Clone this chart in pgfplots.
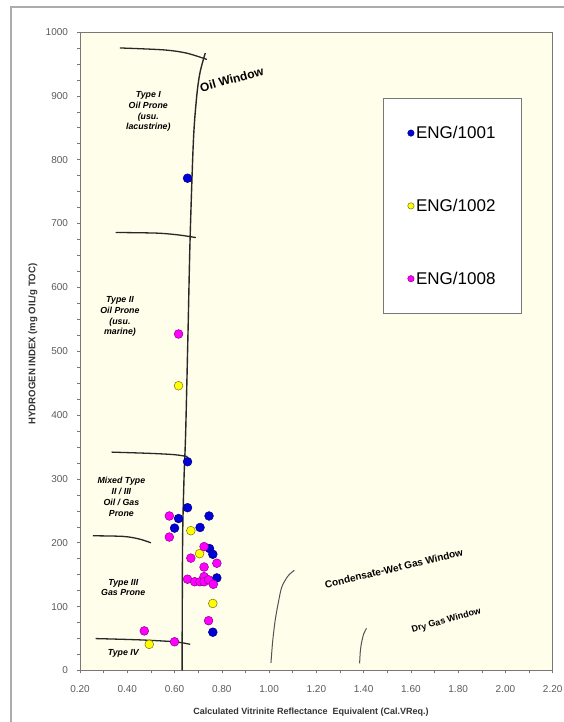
\documentclass[border=0pt]{standalone}
\usepackage{fontspec}
\setmainfont{Liberation Sans}
\usepackage{pgfplots}
\pgfplotsset{compat=1.18}
\definecolor{cream}{RGB}{255,254,234}
\definecolor{ptblue}{RGB}{0,0,215}
\definecolor{ptyellow}{RGB}{255,255,0}
\definecolor{ptmag}{RGB}{255,0,255}
\definecolor{axgray}{RGB}{120,120,120}
\definecolor{lblgray}{RGB}{90,90,90}
\definecolor{curve}{RGB}{40,40,40}
\begin{document}
\begin{tikzpicture}[x=1pt,y=1pt]
\useasboundingbox (0,0) rectangle (564,722);
\draw[gray!65, line width=1.5pt] (11,-10) -- (11,715) -- (580,715);
\begin{axis}[
  at={(80pt,51.5pt)}, anchor=south west,
  scale only axis, width=472.7pt, height=638.5pt,
  xmin=0.2, xmax=2.2, ymin=0, ymax=1000,
  axis background/.style={fill=cream},
  axis line style={axgray, line width=0.8pt},
  every tick/.style={axgray, line width=0.6pt},
  tick align=outside, major tick length=3pt, minor tick length=3pt,
  xtick pos=left, ytick pos=left,
  xtick={0.2,0.4,0.6,0.8,1.0,1.2,1.4,1.6,1.8,2.0,2.2},
  minor x tick num=1,
  ytick={0,100,200,300,400,500,600,700,800,900,1000},
  minor y tick num=3,
  /pgf/number format/assume math mode=true,
  xticklabel style={/pgf/number format/.cd, fixed, fixed zerofill, precision=2, /tikz/.cd, font=\fontsize{10}{12}\selectfont, text=lblgray, yshift=-8pt},
  yticklabel style={/pgf/number format/.cd, 1000 sep={}, /tikz/.cd, font=\fontsize{10}{12}\selectfont, text=lblgray, xshift=-5.5pt},
  xlabel={Calculated Vitrinite Reflectance\ \ Equivalent (Cal.VReq.)},
  xlabel style={at={(rel axis cs:0.4887,0)}, anchor=center, yshift=-41.5pt, font=\fontsize{9}{11}\selectfont\bfseries, text=black!80},
  ylabel={HYDROGEN INDEX (mg OIL/g TOC)},
  ylabel style={at={(rel axis cs:0,0.5114)}, anchor=center, yshift=47pt, font=\fontsize{9.6}{11}\selectfont\bfseries, text=black!80},
  legend style={at={(0.6417,0.8962)}, anchor=north west, draw=axgray, line width=0.8pt, fill=white,
    font=\fontsize{17}{20}\selectfont, row sep=55pt, inner xsep=24pt, inner ysep=25.5pt},
  legend cell align=left,
  clip=false,
]
% oil window and kerogen type boundaries
\addplot[curve, line width=1.4pt, smooth, forget plot] coordinates {(0.632,0) (0.634,200) (0.640,300) (0.647,372) (0.657,530) (0.666,679) (0.680,831) (0.694,900) (0.708,937) (0.730,967)};
\addplot[curve, line width=1.3pt, smooth, forget plot] coordinates {(0.369,975) (0.553,972) (0.65,967) (0.737,957)};
\addplot[curve, line width=1.3pt, smooth, forget plot] coordinates {(0.351,686) (0.525,685) (0.62,682) (0.690,678)};
\addplot[curve, line width=1.3pt, smooth, forget plot] coordinates {(0.334,342) (0.50,340) (0.60,338) (0.655,335)};
\addplot[curve, line width=1.3pt, smooth, forget plot] coordinates {(0.254,211) (0.383,210) (0.45,206) (0.500,200)};
\addplot[curve, line width=1.3pt, smooth, forget plot] coordinates {(0.266,50) (0.45,48) (0.60,45) (0.666,41)};
\addplot[curve!80, line width=1pt, smooth, forget plot] coordinates {(1.008,12) (1.015,45) (1.026,79) (1.040,108) (1.054,131) (1.08,148) (1.107,157)};
\addplot[curve!80, line width=1pt, smooth, forget plot] coordinates {(1.383,11) (1.386,30) (1.391,43) (1.40,57) (1.412,66)};
% data
\addplot[only marks, mark=*, mark size=4.4pt, mark options={fill=ptblue, draw=ptblue!60!black, line width=0.5pt}, forget plot] coordinates {
 (0.655,771) (0.655,327) (0.655,255) (0.617,238) (0.746,242) (0.600,223) (0.708,224) (0.748,191) (0.762,182) (0.779,145) (0.762,60)};
\addplot[only marks, mark=*, mark size=4.4pt, mark options={fill=ptyellow, draw=olive!80!black, line width=0.5pt}, forget plot] coordinates {
 (0.617,446) (0.669,219) (0.706,183) (0.762,105) (0.493,41)};
\addplot[only marks, mark=*, mark size=4.4pt, mark options={fill=ptmag, draw=ptmag!55!black, line width=0.5pt}, forget plot] coordinates {
 (0.617,527) (0.578,242) (0.578,209) (0.725,194) (0.669,176) (0.779,168) (0.725,162) (0.655,143) (0.685,139) (0.708,139) (0.725,147) (0.725,139) (0.744,142) (0.764,135) (0.744,78) (0.472,62) (0.600,45)};
\addlegendimage{only marks, mark=*, mark size=3.2pt, mark options={fill=ptblue, draw=ptblue!60!black, line width=0.5pt}}
\addlegendentry{ENG/1001}
\addlegendimage{only marks, mark=*, mark size=3.2pt, mark options={fill=ptyellow, draw=olive!80!black, line width=0.5pt}}
\addlegendentry{ENG/1002}
\addlegendimage{only marks, mark=*, mark size=3.2pt, mark options={fill=ptmag, draw=ptmag!55!black, line width=0.5pt}}
\addlegendentry{ENG/1008}
% annotations
\node[rotate=15.6, font=\fontsize{12}{14}\selectfont\bfseries] at (axis cs:0.842,926) {Oil Window};
\node[rotate=13.3, font=\fontsize{10}{12}\selectfont\bfseries] at (axis cs:1.528,160) {Condensate-Wet Gas Window};
\node[rotate=16, font=\fontsize{9}{11}\selectfont\bfseries] at (axis cs:1.750,78) {Dry Gas Window};
\node[align=center, font=\fontsize{8.8}{10.7}\selectfont\bfseries\itshape] at (axis cs:0.489,875) {Type I\\Oil Prone\\(usu.\\lacustrine)};
\node[align=center, font=\fontsize{8.8}{10.7}\selectfont\bfseries\itshape] at (axis cs:0.369,554) {Type II\\Oil Prone\\(usu.\\marine)};
\node[align=center, font=\fontsize{8.8}{10.7}\selectfont\bfseries\itshape] at (axis cs:0.375,272) {Mixed Type\\II / III\\Oil / Gas\\Prone};
\node[align=center, font=\fontsize{8.8}{10.7}\selectfont\bfseries\itshape] at (axis cs:0.383,130) {Type III\\Gas Prone};
\node[font=\fontsize{8.8}{10}\selectfont\bfseries\itshape] at (axis cs:0.383,27) {Type IV};
\end{axis}
\end{tikzpicture}
\end{document}
